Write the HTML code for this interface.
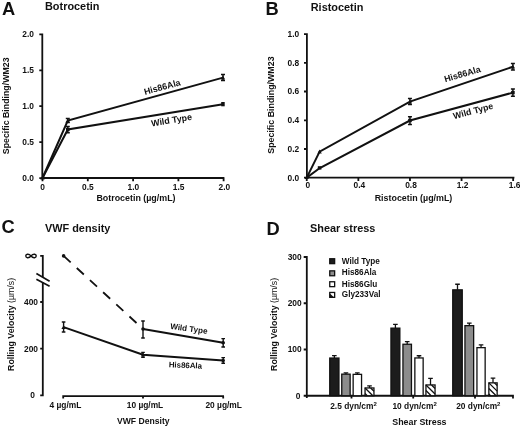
<!DOCTYPE html>
<html><head><meta charset="utf-8">
<style>
html,body{margin:0;padding:0;background:#fff;}
body{width:520px;height:428px;overflow:hidden;}
svg{display:block;will-change:transform;}
text{font-family:"Liberation Sans",sans-serif;font-weight:bold;fill:#111;}
.L{font-size:18.3px;}
.T{font-size:10.9px;}
.k{font-size:8.4px;}
.ax{font-size:8.9px;}
.lb{font-size:8.9px;}
</style></head><body>
<svg width="520" height="428" viewBox="0 0 520 428">
<g stroke="#111" fill="none" stroke-width="1.8" stroke-linecap="butt">

<!-- ===== Panel A ===== -->
<path d="M42.3 33.6V178.9 M39.3 34.4H42.3 M39.3 70.3H42.3 M39.3 106.2H42.3 M39.3 142.2H42.3 M39.3 178.1H42.3"/>
<path d="M41.6 178H224.4 M42.5 178V181.2 M87.8 178V181.2 M133.1 178V181.2 M178.4 178V181.2 M223.6 178V181.2"/>
<path d="M42.5 178L67.8 120.5L223 77.6" stroke-width="2"/>
<path d="M42.5 178L67.8 129.5L223 104.2" stroke-width="2"/>
<path d="M67.8 118.6V122.6 M65.8 118.6H69.8 M65.8 122.6H69.8 M67.8 126.6V132.7 M65.8 126.6H69.8 M65.8 132.7H69.8 M223 74.6V80.6 M221 74.6H225 M221 80.6H225" stroke-width="1.5"/>
</g>
<g fill="#111">
<rect x="221.2" y="102" width="3.5" height="4.3"/>
<path d="M223 75.8L225.2 79.6H220.8Z"/>
<path d="M67.8 118.9L70 122.4H65.6Z"/>
<rect x="66" y="127.8" width="3.6" height="3.4"/>
<path d="M42.5 175.5L44.7 179.5H40.3Z"/>
</g>
<text class="L" x="2" y="14.8">A</text>
<text class="T" x="45" y="9.8">Botrocetin</text>
<g class="k" text-anchor="end">
<text x="34" y="37.1">2.0</text><text x="34" y="73">1.5</text><text x="34" y="108.9">1.0</text><text x="34" y="144.9">0.5</text><text x="34" y="180.8">0.0</text>
</g>
<g class="k" text-anchor="middle">
<text x="42.5" y="190">0</text><text x="87.9" y="190">0.5</text><text x="133.3" y="190">1.0</text><text x="178.6" y="190">1.5</text><text x="224.3" y="190">2.0</text>
</g>
<text class="ax" x="136" y="201.3" text-anchor="middle">Botrocetin (µg/mL)</text>
<text class="ax" transform="translate(9.1 105.8) rotate(-90)" text-anchor="middle" style="font-size:8.8px">Specific Binding/WM23</text>
<text class="lb" transform="translate(163 90) rotate(-15.2)" text-anchor="middle">His86Ala</text>
<text class="lb" transform="translate(172 123.1) rotate(-9.3)" text-anchor="middle">Wild Type</text>

<!-- ===== Panel B ===== -->
<g stroke="#111" fill="none" stroke-width="1.8">
<path d="M306.9 33.3V178.4 M304 34.1H306.9 M304 62.8H306.9 M304 91.5H306.9 M304 120.3H306.9 M304 149H306.9 M304 177.7H306.9"/>
<path d="M305.9 177.6H514.4 M306.75 177.6V180.9 M358.35 177.6V180.9 M409.95 177.6V180.9 M461.55 177.6V180.9 M513.15 177.6V180.9"/>
<path d="M306.75 177.6L319.6 151.6L409.95 101.6L512.9 66.7" stroke-width="2"/>
<path d="M306.75 177.6L319.8 168L409.95 120.5L512.9 92.6" stroke-width="2"/>
<path d="M409.95 98.4V104.6 M407.95 98.4H411.95 M407.95 104.6H411.95 M409.95 116.8V124.6 M407.95 116.8H411.95 M407.95 124.6H411.95 M512.9 63.6V69.9 M510.9 63.6H514.9 M510.9 69.9H514.9 M512.9 89.1V96.3 M510.9 89.1H514.9 M510.9 96.3H514.9" stroke-width="1.5"/>
</g>
<g fill="#111">
<path d="M319.6 149.6L321.8 153.4H317.4Z"/>
<rect x="317.8" y="166.2" width="3.6" height="3.4"/>
<path d="M409.95 99.7L412.1 103.5H407.8Z"/>
<rect x="408.15" y="118.8" width="3.6" height="3.4"/>
<path d="M512.9 64.8L515.1 68.6H510.7Z"/>
<rect x="511.1" y="90.9" width="3.6" height="3.4"/>
<path d="M306.75 175.2L308.9 179H304.6Z"/>
</g>
<text class="L" x="265.5" y="15">B</text>
<text class="T" x="310.75" y="10.5">Ristocetin</text>
<g class="k" text-anchor="end">
<text x="299.2" y="36.9">1.0</text><text x="299.2" y="65.6">0.8</text><text x="299.2" y="94.3">0.6</text><text x="299.2" y="123.1">0.4</text><text x="299.2" y="151.8">0.2</text><text x="299.2" y="180.5">0.0</text>
</g>
<g class="k" text-anchor="middle">
<text x="307.8" y="188.4">0</text><text x="359.4" y="188.4">0.4</text><text x="411" y="188.4">0.8</text><text x="462.6" y="188.4">1.2</text><text x="514.6" y="188.4">1.6</text>
</g>
<text class="ax" x="413.5" y="201.3" text-anchor="middle">Ristocetin (µg/mL)</text>
<text class="ax" transform="translate(274.1 105.1) rotate(-90)" text-anchor="middle" style="font-size:8.85px">Specific Binding/WM23</text>
<text class="lb" transform="translate(463.2 77) rotate(-16)" text-anchor="middle">His86Ala</text>
<text class="lb" transform="translate(473.9 113.9) rotate(-15)" text-anchor="middle">Wild Type</text>

<!-- ===== Panel C ===== -->
<g stroke="#111" fill="none" stroke-width="1.8">
<path d="M42.8 255V277 M42.8 282.5V396.2 M40.2 255.8H42.8 M40.2 302H42.8 M40.2 348.7H42.8 M40.2 395.4H42.8"/>
<path d="M36.4 273.6L49.6 281.2 M36.4 279.2L49.6 286.3" stroke-width="1.7"/>
<path d="M62.3 396.2H224 M63.2 396.2V398.6 M143 396.2V398.6 M223.2 396.2V398.6"/>
<path d="M63.6 255.9L143 329" stroke-dasharray="9.6 8.3" stroke-width="1.8"/>
<path d="M143 329L223.2 342.7" stroke-width="2"/>
<path d="M63.6 327.1L143 354.7L223.2 360.5" stroke-width="2"/>
<path d="M63.6 322V332 M61.8 322H65.4 M61.8 332H65.4 M143 321V338 M141.2 321H144.8 M141.2 338H144.8 M223.2 338.6V347 M221.4 338.6H225.0 M221.4 347H225.0 M143 352.4V357.4 M141.2 352.4H144.8 M141.2 357.4H144.8 M223.2 357.6V363.3 M221.4 357.6H225.0 M221.4 363.3H225.0" stroke-width="1.4"/>
</g>
<g fill="#111">
<circle cx="63.6" cy="255.9" r="1.8"/>
<circle cx="143" cy="329" r="1.8"/>
<circle cx="223.2" cy="342.7" r="1.8"/>
<path d="M63.6 325.2L65.8 329H61.4Z"/>
<path d="M143 352.8L145.2 356.6H140.8Z"/>
<circle cx="223.2" cy="360.5" r="1.8"/>
</g>
<text class="L" x="1.5" y="233">C</text>
<text class="T" x="45" y="232.3">VWF density</text>
<path d="M31 256C29.5 254.2 28.2 254.2 27.4 254.3C26.3 254.5 25.8 255.2 25.8 256C25.8 256.8 26.3 257.5 27.4 257.7C28.2 257.8 29.5 257.8 31 256C32.5 254.2 33.8 254.2 34.6 254.3C35.7 254.5 36.2 255.2 36.2 256C36.2 256.8 35.7 257.5 34.6 257.7C33.8 257.8 32.5 257.8 31 256Z" fill="none" stroke="#111" stroke-width="1.4"/>
<g class="k" text-anchor="end">
<text x="38" y="304.8">400</text><text x="38" y="351.5">200</text><text x="35" y="397.6">0</text>
</g>
<g class="k" text-anchor="middle">
<text x="65.4" y="408.2">4 µg/mL</text><text x="145" y="408.2">10 µg/mL</text><text x="223.7" y="408.2">20 µg/mL</text>
</g>
<text class="ax" x="143.3" y="424.4" text-anchor="middle" style="font-size:8.6px">VWF Density</text>
<text class="ax" transform="translate(14.2 324.4) rotate(-90)" text-anchor="middle" style="font-size:8.8px">Rolling Velocity <tspan font-weight="normal">(µm/s)</tspan></text>
<text class="lb" transform="translate(188.5 331.4) rotate(7.8)" text-anchor="middle" style="font-size:8.1px">Wild Type</text>
<text class="lb" transform="translate(185.3 367.9) rotate(2.5)" text-anchor="middle" style="font-size:7.9px">His86Ala</text>

<!-- ===== Panel D ===== -->
<g stroke="#111" fill="none" stroke-width="1.8">
<path d="M306.8 256.1V398 M303.7 257H306.8 M303.7 303.25H306.8 M303.7 349.5H306.8 M303.7 395.75H306.8"/>
<path d="M305.9 395.75H513.9 M351.5 395.75V398.5 M413.2 395.75V398.5 M475 395.75V398.5 M513 395.75V398.5"/>
</g>
<g stroke="#111" stroke-width="1.3">
<rect x="329.75" y="358.05" width="9.20" height="37.70" fill="#1c1c1c"/>
<rect x="341.75" y="374.15" width="8.40" height="21.60" fill="#8c8c8c"/>
<rect x="353.15" y="374.35" width="8.40" height="21.40" fill="#fff"/>
<rect x="365.05" y="387.95" width="8.90" height="7.80" fill="#fff"/>
<rect x="390.95" y="328.15" width="8.90" height="67.60" fill="#1c1c1c"/>
<rect x="402.95" y="344.25" width="8.50" height="51.50" fill="#8c8c8c"/>
<rect x="414.85" y="357.95" width="8.30" height="37.80" fill="#fff"/>
<rect x="425.95" y="384.95" width="9.10" height="10.80" fill="#fff"/>
<rect x="452.75" y="289.85" width="9.50" height="105.90" fill="#1c1c1c"/>
<rect x="464.95" y="325.65" width="8.70" height="70.10" fill="#8c8c8c"/>
<rect x="476.95" y="347.65" width="8.20" height="48.10" fill="#fff"/>
<rect x="488.85" y="382.85" width="8.30" height="12.90" fill="#fff"/>
</g>
<path d="M370.65 387.95L373.95 391.25 M365.05 387.95L372.85 395.75 M365.05 393.55L367.25 395.75 M431.55 384.95L435.05 388.45 M425.95 384.95L435.05 394.05 M425.95 390.55L431.15 395.75 M494.45 382.85L497.15 385.55 M488.85 382.85L497.15 391.15 M488.85 388.45L496.15 395.75 M488.85 394.05L490.55 395.75" stroke="#111" stroke-width="1.3" fill="none"/>
<path d="M334.35 358.05V355.55 M332.05 355.55H336.65 M345.95 374.15V372.95 M343.65 372.95H348.25 M357.35 374.35V372.95 M355.05 372.95H359.65 M369.50 387.95V385.85 M367.20 385.85H371.80 M395.40 328.15V324.45 M393.10 324.45H397.70 M407.20 344.25V341.55 M404.90 341.55H409.50 M419.00 357.95V355.75 M416.70 355.75H421.30 M430.50 384.95V378.45 M428.20 378.45H432.80 M457.50 289.85V284.25 M455.20 284.25H459.80 M469.30 325.65V323.15 M467.00 323.15H471.60 M481.05 347.65V344.95 M478.75 344.95H483.35 M493.00 382.85V378.05 M490.70 378.05H495.30" stroke="#111" stroke-width="1.3" fill="none"/>
<text class="L" x="266.5" y="235.2">D</text>
<text class="T" x="310" y="232">Shear stress</text>
<g class="k" text-anchor="end">
<text x="301.7" y="259.9">300</text><text x="301.7" y="306.2">200</text><text x="301.7" y="352.4">100</text><text x="300.3" y="398.6">0</text>
</g>
<g class="k" text-anchor="middle">
<text x="353.5" y="409">2.5 dyn/cm<tspan dy="-3" font-size="6">2</tspan></text>
<text x="414.6" y="409">10 dyn/cm<tspan dy="-3" font-size="6">2</tspan></text>
<text x="478.3" y="409">20 dyn/cm<tspan dy="-3" font-size="6">2</tspan></text>
</g>
<text class="ax" x="419.4" y="424.5" text-anchor="middle">Shear Stress</text>
<text class="ax" transform="translate(276.6 324.4) rotate(-90)" text-anchor="middle" style="font-size:8.8px">Rolling Velocity <tspan font-weight="normal">(µm/s)</tspan></text>
<!-- legend -->
<g stroke="#111" stroke-width="1.3">
<rect x="329.75" y="258.75" width="4.9" height="4.9" fill="#1c1c1c"/>
<rect x="329.75" y="270.85" width="4.9" height="4.9" fill="#8c8c8c"/>
<rect x="329.75" y="281.75" width="4.9" height="4.9" fill="#fff"/>
<rect x="329.75" y="292.45" width="4.9" height="4.9" fill="#fff"/>
</g>
<path d="M329.6 293.2L329.6 297.5L334.2 297.5Z" fill="#111"/>
<g class="lb" style="font-size:8.2px">
<text x="341.8" y="263.7">Wild Type</text>
<text x="341.8" y="275.2">His86Ala</text>
<text x="341.8" y="286.6">His86Glu</text>
<text x="341.8" y="297">Gly233Val</text>
</g>
</svg>
</body></html>
